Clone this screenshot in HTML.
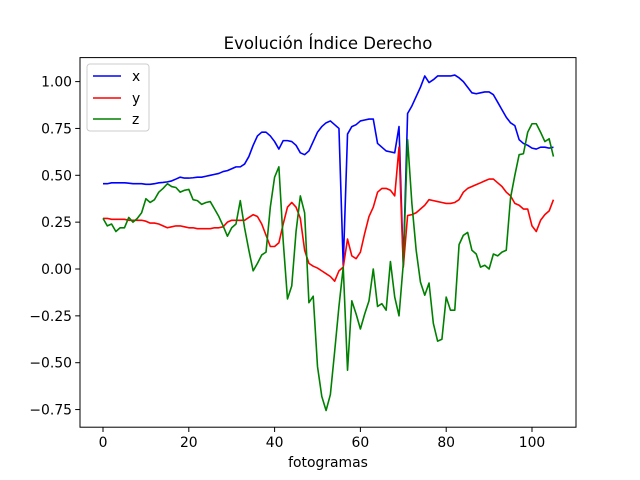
<!DOCTYPE html>
<html><head><meta charset="utf-8"><style>
body{margin:0;background:#fff}
svg{display:block;font-family:"DejaVu Sans","Liberation Sans",sans-serif}
</style></head><body>
<svg id="chart" width="640" height="480" viewBox="0 0 640 480">
<rect x="0" y="0" width="640" height="480" fill="#fff"/>
<text x="328" y="49" text-anchor="middle" font-size="16.5">Evolución Índice Derecho</text>
<g id="ticks"></g>
<g id="series"></g>
<rect x="80" y="57.6" width="496" height="369.6" fill="none" stroke="#000" stroke-width="1"/>
<text x="328" y="467" text-anchor="middle" font-size="13.9">fotogramas</text>
<g>
<rect x="87" y="64" width="62" height="67" rx="3" fill="#fff" fill-opacity="0.8" stroke="#ccc"/>
<line x1="93" y1="76" x2="121" y2="76" stroke="blue" stroke-width="1.6"/>
<text x="132" y="81" font-size="13.9">x</text>
<line x1="93" y1="98" x2="121" y2="98" stroke="red" stroke-width="1.6"/>
<text x="132" y="103" font-size="13.9">y</text>
<line x1="93" y1="119" x2="121" y2="119" stroke="green" stroke-width="1.6"/>
<text x="132" y="124" font-size="13.9">z</text>
</g>
</svg>
<script>
const xTicks = [0, 20, 40, 60, 80, 100];
const yTicks = [-0.75, -0.50, -0.25, 0.00, 0.25, 0.50, 0.75, 1.00];
const seriesX = [0.455,0.455,0.46,0.46,0.46,0.46,0.458,0.455,0.455,0.455,0.452,0.452,0.455,0.46,0.462,0.465,0.47,0.48,0.49,0.485,0.485,0.487,0.49,0.49,0.495,0.5,0.505,0.51,0.52,0.525,0.535,0.545,0.545,0.56,0.6,0.66,0.71,0.73,0.73,0.71,0.68,0.64,0.685,0.685,0.68,0.66,0.62,0.61,0.63,0.68,0.73,0.76,0.78,0.79,0.77,0.75,0.02,0.72,0.76,0.77,0.79,0.795,0.8,0.8,0.67,0.65,0.63,0.625,0.62,0.76,0.02,0.83,0.87,0.92,0.97,1.03,0.995,1.01,1.03,1.03,1.03,1.03,1.035,1.02,1.0,0.97,0.94,0.935,0.94,0.945,0.945,0.93,0.89,0.85,0.81,0.78,0.765,0.69,0.67,0.66,0.645,0.64,0.65,0.65,0.645,0.65];
const seriesY = [0.27,0.27,0.265,0.265,0.265,0.265,0.26,0.26,0.26,0.26,0.255,0.245,0.245,0.24,0.23,0.22,0.225,0.23,0.23,0.225,0.22,0.22,0.215,0.215,0.215,0.215,0.22,0.22,0.225,0.25,0.26,0.26,0.26,0.26,0.275,0.29,0.28,0.24,0.18,0.12,0.12,0.14,0.24,0.33,0.355,0.33,0.27,0.1,0.03,0.015,0.005,-0.01,-0.025,-0.04,-0.065,-0.01,0.01,0.16,0.07,0.055,0.09,0.19,0.28,0.33,0.41,0.43,0.43,0.42,0.39,0.65,0.01,0.285,0.29,0.3,0.32,0.34,0.37,0.365,0.36,0.355,0.35,0.35,0.355,0.37,0.41,0.43,0.44,0.45,0.46,0.47,0.48,0.48,0.46,0.44,0.41,0.39,0.35,0.34,0.32,0.32,0.23,0.2,0.26,0.29,0.31,0.37];
const seriesZ = [0.27,0.23,0.24,0.2,0.22,0.22,0.275,0.25,0.27,0.3,0.375,0.355,0.37,0.41,0.43,0.455,0.44,0.435,0.41,0.42,0.425,0.37,0.365,0.345,0.355,0.36,0.32,0.28,0.23,0.175,0.22,0.24,0.365,0.22,0.1,-0.01,0.03,0.075,0.09,0.33,0.49,0.545,0.15,-0.16,-0.09,0.2,0.39,0.3,-0.18,-0.145,-0.52,-0.68,-0.755,-0.67,-0.44,-0.2,0.01,-0.54,-0.17,-0.24,-0.32,-0.24,-0.17,0.0,-0.2,-0.185,-0.22,0.04,-0.15,-0.25,0.03,0.69,0.35,0.1,-0.07,-0.14,-0.075,-0.29,-0.385,-0.375,-0.15,-0.22,-0.22,0.13,0.18,0.195,0.1,0.08,0.01,0.02,0.0,0.08,0.07,0.09,0.1,0.38,0.5,0.61,0.615,0.73,0.775,0.775,0.73,0.68,0.695,0.6];

const NS = 'http://www.w3.org/2000/svg';
function xs(v){ return 103 + v * 4.29; }
function ys(v){ return 269 - v * 187.4; }
const tg = document.getElementById('ticks');
xTicks.forEach(t => {
  const l = document.createElementNS(NS,'line');
  l.setAttribute('x1', xs(t)); l.setAttribute('x2', xs(t));
  l.setAttribute('y1', 427.2); l.setAttribute('y2', 432);
  l.setAttribute('stroke','#000');
  
  
  tg.appendChild(l);
  const tx = document.createElementNS(NS,'text');
  tx.setAttribute('x', xs(t)); tx.setAttribute('y', 447);
  tx.setAttribute('text-anchor','middle'); tx.setAttribute('font-size','13.9');
  tx.textContent = t;
  
  
  tg.appendChild(tx);
});
yTicks.forEach(t => {
  const l = document.createElementNS(NS,'line');
  l.setAttribute('x1', 75.2); l.setAttribute('x2', 80);
  l.setAttribute('y1', ys(t)); l.setAttribute('y2', ys(t));
  l.setAttribute('stroke','#000');
  
  
  tg.appendChild(l);
  const tx = document.createElementNS(NS,'text');
  tx.setAttribute('x', 72); tx.setAttribute('y', ys(t) + 5);
  tx.setAttribute('text-anchor','end'); tx.setAttribute('font-size','13.9');
  tx.textContent = (t < 0 ? '\u2212' : '') + Math.abs(t).toFixed(2);
  
  
  tg.appendChild(tx);
});
const sg = document.getElementById('series');
[[seriesX,'blue','series-x'],[seriesY,'red','series-y'],[seriesZ,'green','series-z']].forEach(([d,c,n]) => {
  const p = document.createElementNS(NS,'polyline');
  p.setAttribute('points', d.map((v,i) => xs(i).toFixed(2) + ',' + ys(v).toFixed(2)).join(' '));
  p.setAttribute('fill','none'); p.setAttribute('stroke', c);
  p.setAttribute('stroke-width','1.6'); p.setAttribute('stroke-linejoin','round');
  
  
  sg.appendChild(p);
});
</script>
</body></html>
